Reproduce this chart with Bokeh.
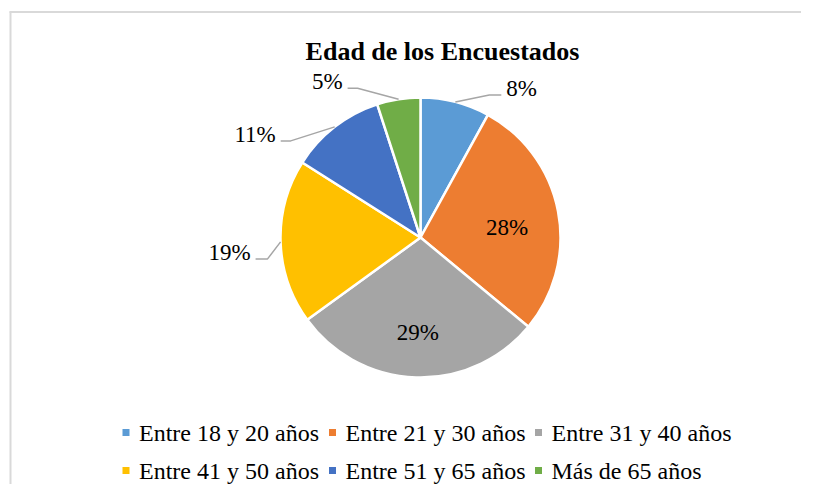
import numpy as np
from bokeh.plotting import figure
from bokeh.models import Range1d, ColumnDataSource
from bokeh.core.properties import value
from bokeh.embed import file_html
from bokeh.resources import INLINE

# ---------------- data ----------------
title = "Edad de los Encuestados"
categories = ["Entre 18 y 20 años", "Entre 21 y 30 años", "Entre 31 y 40 años",
              "Entre 41 y 50 años", "Entre 51 y 65 años", "Más de 65 años"]
percentages = [8, 28, 29, 19, 11, 5]

# ---------------- style / layout ----------------
colors = ["#5B9BD5", "#ED7D31", "#A5A5A5", "#FFC000", "#4472C4", "#70AD47"]
FONT = "Liberation Serif"
W, H = 801, 484
CX, CY_PAGE, R = 420, 237, 140          # pie centre (page px) and radius
# leader layout for outside labels: (bend dx, bend dy, horizontal run) in page px
leader_layout = {0: (34, -7, 12), 3: (-13, 17, -12), 4: (-44, 14, -10), 5: (-41, -11, -10)}
inside_r = 0.63
inside_dy = 7
legend_cols = [125.5, 332, 538]
legend_rows = [432, 470]


def Y(page_y):
    return 500 - page_y


p = figure(width=W, height=H, x_range=Range1d(0, W), y_range=Range1d(500 - H, 500),
           output_backend="svg", toolbar_location=None, x_axis_type=None, y_axis_type=None,
           min_border=0, outline_line_color=None)
p.grid.visible = False
p.background_fill_color = "white"
p.border_fill_color = "white"

# chart-area border (top and left visible)
p.segment(x0=[9, 10], y0=[Y(11.5), Y(11)], x1=[W, 10], y1=[Y(11.5), Y(500)],
          line_color="#d9d9d9", line_width=2)

# wedges
fr = np.array(percentages, dtype=float) / sum(percentages)
ends = np.cumsum(fr)
starts = ends - fr
src = ColumnDataSource(dict(start=np.pi / 2 - 2 * np.pi * ends,
                            end=np.pi / 2 - 2 * np.pi * starts,
                            color=colors, cat=categories))
cy = Y(CY_PAGE)
p.wedge(x=CX, y=cy, radius=R, start_angle="start", end_angle="end", direction="anticlock",
        fill_color="color", line_color="white", line_width=2.5, source=src)

# labels
mid = 2 * np.pi * (starts + ends) / 2   # clockwise from top
for i, pct in enumerate(percentages):
    txt = f"{pct}%"
    ux, uy = np.sin(mid[i]), np.cos(mid[i])
    if i in leader_layout:
        bdx, bdy, run = leader_layout[i]
        ex, ey = CX + R * ux, cy + R * uy
        bx, by = ex + bdx, ey - bdy
        hx = bx + run
        p.line(x=[ex, bx, hx], y=[ey, by, by], line_color="#a6a6a6", line_width=1.5)
        sign = 1 if run > 0 else -1
        p.text(x=[hx + sign * 5], y=[by + 6.5], text=[txt],
               text_align="left" if sign > 0 else "right", text_baseline="middle",
               text_font=value(FONT), text_font_size="23px", text_color="black")
    else:
        p.text(x=[CX + inside_r * R * ux], y=[cy + inside_r * R * uy - inside_dy], text=[txt],
               text_align="center", text_baseline="middle",
               text_font=value(FONT), text_font_size="23px", text_color="black")

# title
p.text(x=[442], y=[Y(50.5)], text=[title], text_align="center", text_baseline="alphabetic",
       text_font=value(FONT), text_font_size="26px", text_font_style="bold", text_color="black")

# legend
for i, cat in enumerate(categories):
    r, c = divmod(i, 3)
    lx, ly = legend_cols[c], Y(legend_rows[r])
    p.rect(x=[lx], y=[ly], width=7, height=7, fill_color=colors[i], line_color=None)
    p.text(x=[lx + 13], y=[ly], text=[cat], text_align="left", text_baseline="middle",
           text_font=value(FONT), text_font_size="24px", text_color="black")

open("out.html", "w").write(file_html(p, INLINE))
